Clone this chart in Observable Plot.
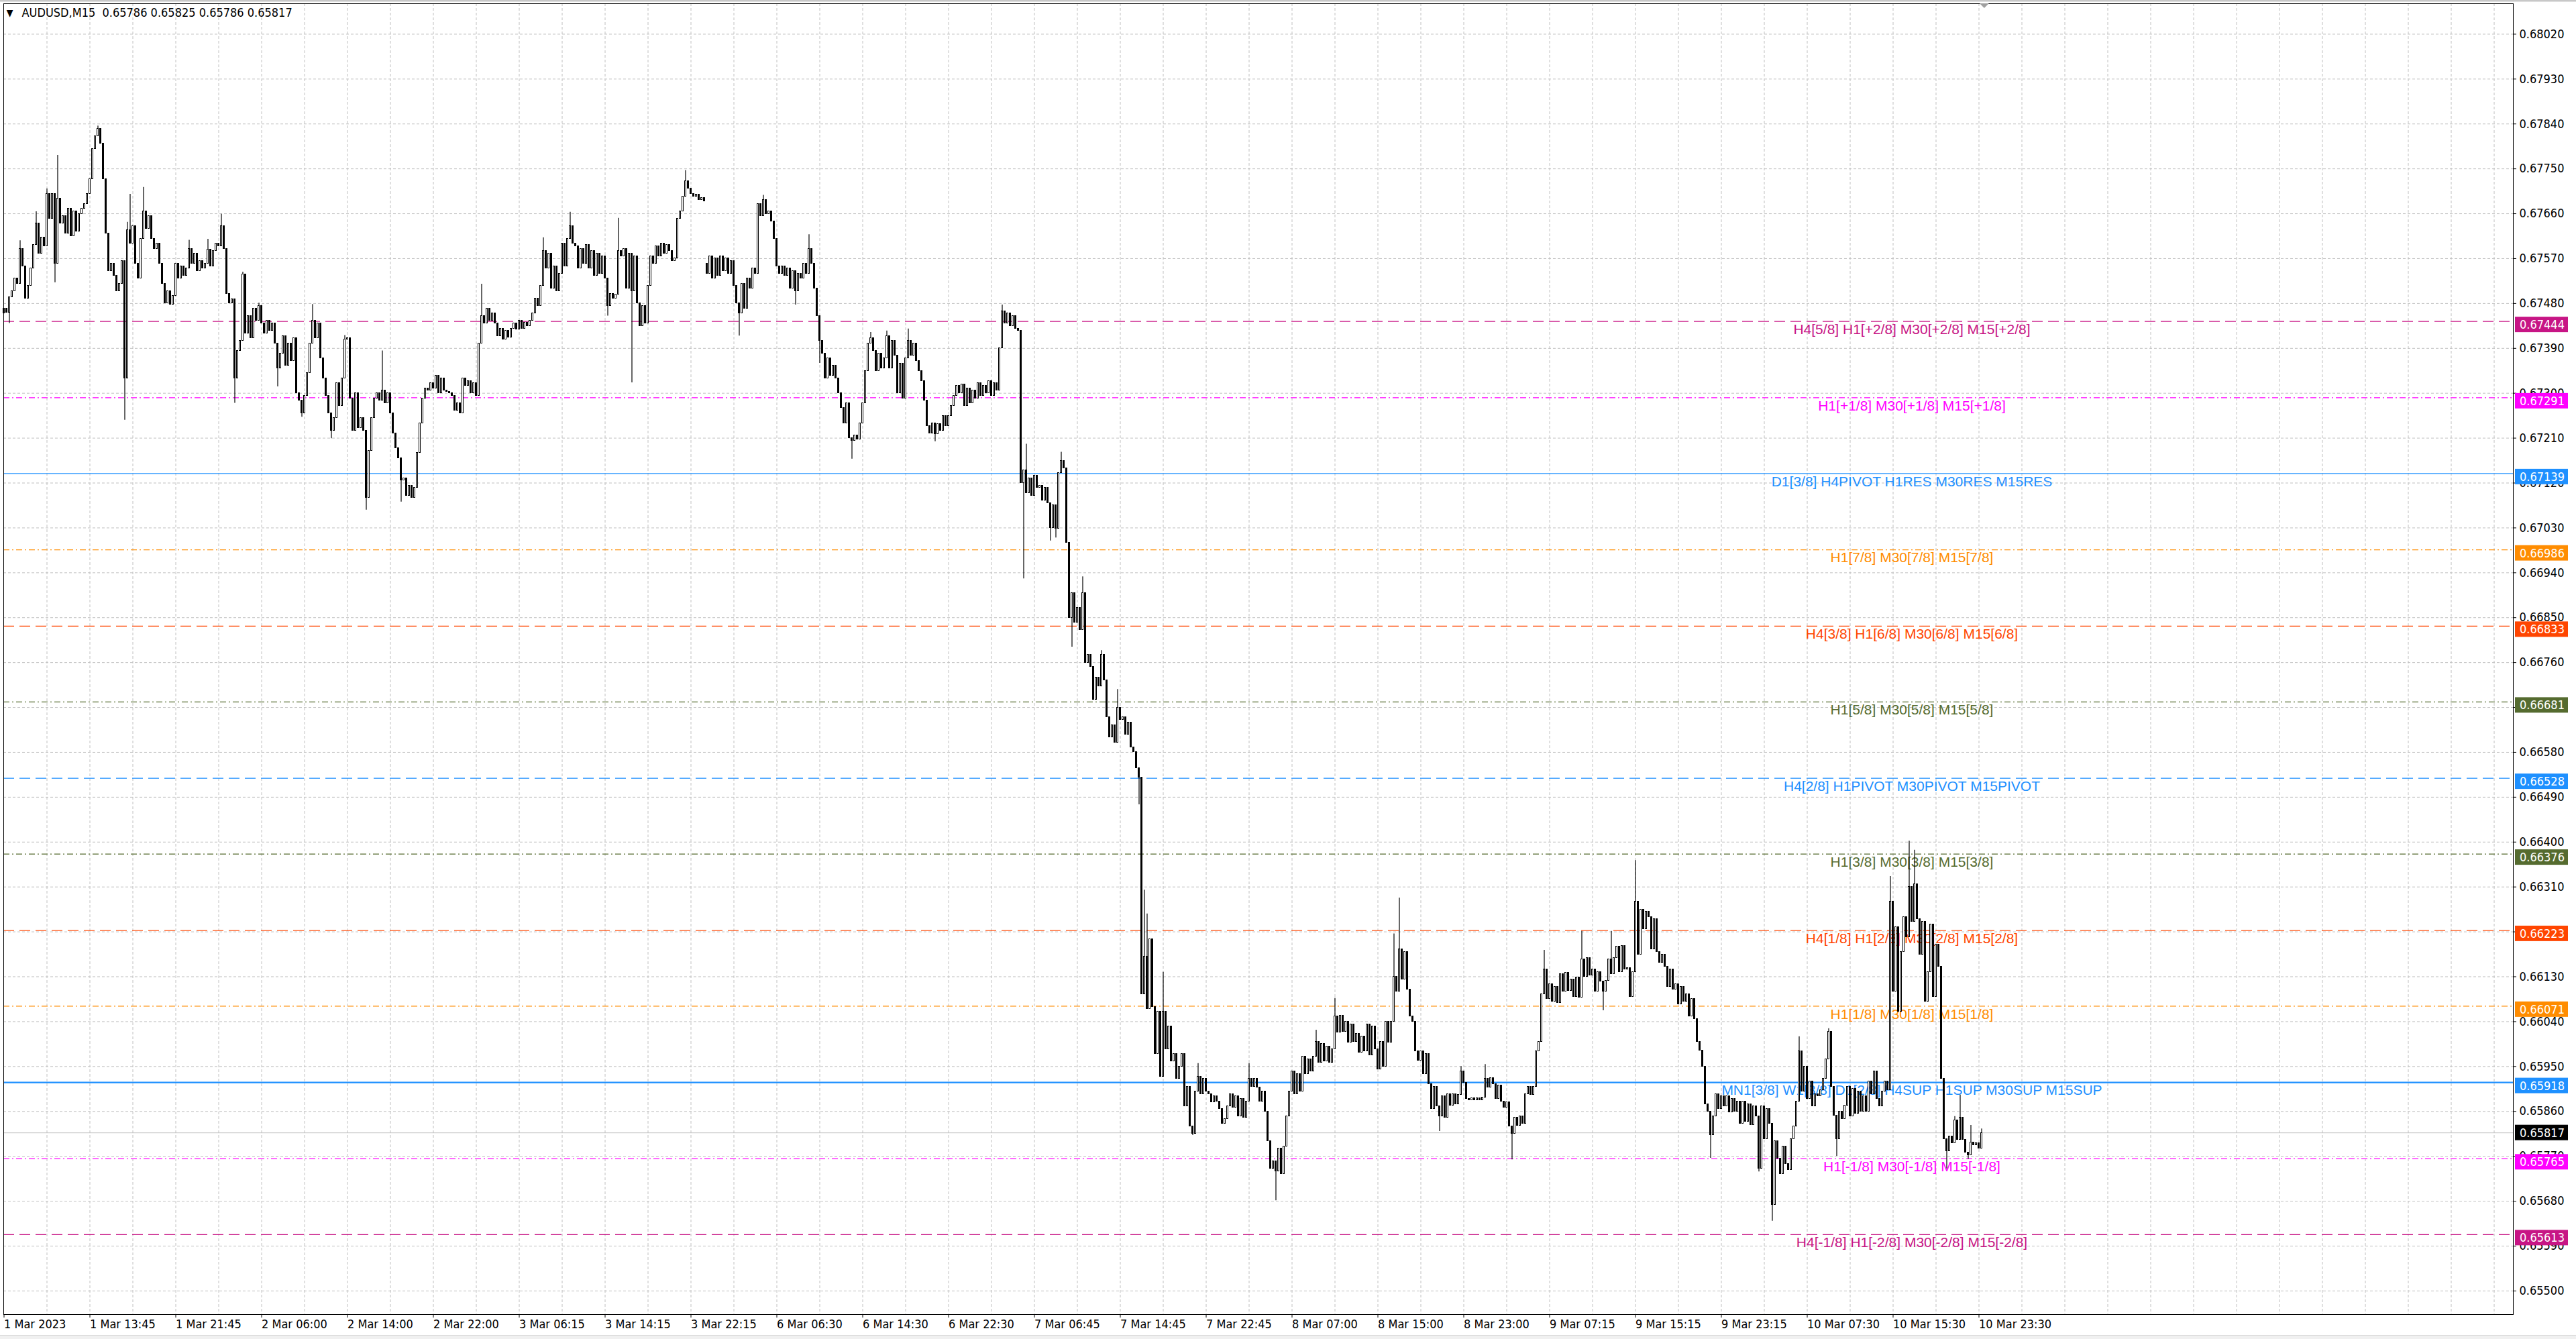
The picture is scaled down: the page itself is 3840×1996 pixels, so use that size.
<!DOCTYPE html>
<html>
<head>
<meta charset="utf-8">
<script src="https://cdn.jsdelivr.net/npm/d3@7"></script>
<script src="https://cdn.jsdelivr.net/npm/@observablehq/plot@0.6"></script>
<style>
  html, body { margin: 0; padding: 0; background: #ffffff; }
  #chart { width: 3840px; height: 1996px; overflow: hidden; }
</style>
</head>
<body>
<div id="chart"></div>
<script>
// ---------- DATA (prices in points above 0.65000, i.e. 2470 -> 0.67470) ----------
const priceBase = 0.65;
const symbol = "AUDUSD";
const timeframe = "M15";
const lastOHLC = [0.65786, 0.65825, 0.65786, 0.65817];
const lastPrice = 0.65817;

const firstOpen = 2460;      // open of the first visible bar
const weekGapBar = 262;      // first bar of Monday 6 Mar
const weekGapOpen = 2560;

const close_0301 = [2470,2462,2492,2505,2530,2520,2590,2555,2490,2515,
2550,2598,2640,2580,2612,2595,2700,2650,2700,2560,
2690,2640,2655,2620,2670,2615,2665,2625,2660,2670,
2680,2700,2730,2790,2815,2830,2800,2730,2620,2545,
2560,2535,2505,2520,2565,2330,2627,2600,2635,2560,
2530,2610,2665,2630,2655,2610,2590,2600,2560,2520,
2480,2505,2478,2495,2560,2530,2555,2535,2550,2590,
2560,2580];
const close_0302 = [2545,2565,2550,2560,2588,2555,2585,2600,
2595,2635,2590,2500,2480,2488,2330,2385,2405,2538,
2420,2455,2410,2470,2445,2475,2440,2420,2445,2425,
2440,2400,2350,2380,2415,2355,2400,2365,2410,2300,
2285,2260,2295,2340,2400,2445,2410,2440,2370,2330,
2295,2260,2225,2250,2320,2275,2330,2408,2410,2290,
2225,2300,2230,2250,2225,2090,2185,2250,2290,2300,
2285,2305,2280,2300,2260,2220,2190,2170,2125,2130,
2095,2115,2090,2110,2180,2240,2290,2310,2305,2320,
2310,2335,2300,2330,2305,2303,2300];
const close_0303 = [2295,2265,2280,
2260,2330,2315,2325,2300,2320,2295,2400,2455,2440,
2470,2445,2460,2440,2415,2430,2408,2425,2412,2430,
2440,2428,2445,2430,2442,2435,2445,2460,2490,2475,
2515,2585,2550,2580,2510,2555,2505,2540,2600,2555,
2610,2635,2600,2595,2550,2590,2560,2598,2550,2585,
2535,2580,2540,2575,2530,2475,2500,2490,2498,2585,
2575,2590,2510,2580,2505,2575,2480,2435,2475,2440,
2515,2575,2560,2595,2575,2600,2580,2598,2585,2565,
2570,2650,2665,2695,2725,2710,2700,2695,2698,2688,
2692,2685];
const close_0306 = [2540,2575,2530,2570,2535,2575,2545,2570,
2540,2565,2515,2480,2460,2520,2470,2530,2510,2550,
2540,2680,2655,2688,2660,2665,2645,2610,2555,2540,
2555,2535,2550,2510,2545,2505,2540,2530,2560,2540,
2590,2560,2510,2455,2405,2380,2330,2370,2335,2355,
2330,2300,2270,2240,2280,2210,2205,2215,2208,2240,
2280,2345,2400,2410,2385,2345,2380,2350,2370,2415,
2350,2405,2375,2300,2360,2290,2370,2405,2375,2400,
2365,2345,2325,2285,2235,2220,2240,2218,2238,2225,
2255,2235,2255,2275,2295,2315,2300];
const close_0307 = [2318,2275,2310,
2280,2305,2290,2320,2295,2315,2300,2325,2295,2320,
2305,2390,2465,2440,2460,2435,2455,2430,2425,2120,
2145,2100,2130,2095,2135,2110,2115,2085,2110,2080,
2030,2075,2028,2140,2165,2150,2000,1850,1900,1840,
1870,1825,1900,1760,1775,1752,1685,1730,1712,1775,
1725,1650,1610,1635,1600,1670,1645,1650,1615,1640,
1590,1580,1548,1530,1095,1170,1065,1205,1070,975,
1060,930,1060,985,1030,960,975,925,950,975,
870,910,830,815,900,930,895,925,900,895,878,890];
const close_0308 = [880,865,835,845,870,895,868,890,
850,885,848,880,925,910,926,908,880,900,
860,800,745,760,740,785,735,790,850,900,
940,895,935,900,970,935,965,940,970,1000,
958,995,960,990,958,985,1050,1018,1052,1020,
1040,998,1035,1000,1015,978,1010,980,1035,972,
1030,985,945,1000,950,1040,998,1040,1130,1100,
1185,1125,1180,1105,1050,1040,980,962,980,935,
975,915,865,910,870,850,890,848,895,872,
895,875,893,940,918,885,882];
const close_0309 = [887,883,886,
882,888,925,908,927,915,885,912,880,868,
878,830,815,848,832,850,835,895,910,893,
910,980,1000,1095,1145,1085,1115,1080,1110,1078,
1135,1100,1138,1102,1125,1090,1128,1088,1165,1130,
1168,1132,1145,1100,1140,1120,1100,1122,1165,1136,
1168,1190,1140,1192,1145,1148,1090,1140,1280,1175,
1265,1225,1260,1250,1185,1245,1180,1158,1175,1150,
1110,1145,1105,1115,1075,1110,1080,1095,1050,1085,
1045,1000,982,950,875,860,812,850,895,865,
890,870];
const close_0310 = [890,858,885,860,880,835,880,840,
875,833,870,850,745,870,805,865,835,672,
800,765,735,790,755,742,805,830,880,980,
900,950,885,920,870,895,890,903,925,965,
1020,910,852,805,860,845,872,910,850,905,
855,900,860,890,860,920,895,940,885,870,
900,920,902,1280,1100,1230,1060,1180,1250,1210,
1310,1240,1315,1245,1175,1240,1080,1140,1235,1090,
1195,1150,925,805,780,810,796,842,803,848,
803,778,772,798,792,796,786,817];

// long wicks: [bar, price points]
const highWicks = [[6,2606],[12,2664],[16,2710],[20,2777],[35,2836],[46,2643],[47,2699],[52,2713],[69,2607],[76,2609],[81,2659],[89,2543],[95,2481],[115,2478],[127,2416],[141,2385],[178,2519],[201,2612],[211,2663],[229,2651],[254,2747],[283,2697],[300,2618],[323,2422],[329,2425],[337,2429],[372,2477],[381,2198],[394,2182],[402,1932],[409,1784],[415,1706],[425,1304],[426,1256],[432,1139],[445,956],[464,956],[489,1023],[496,1087],[518,1216],[520,1288],[543,950],[552,954],[574,1183],[588,1221],[599,1221],[608,1363],[669,1010],[680,1026],[703,1331],[710,1402],[712,1384],[727,850],[729,893],[733,832],[737,825]];
const lowWicks = [[2,2440],[19,2522],[45,2246],[86,2280],[102,2313],[111,2252],[122,2209],[135,2066],[148,2082],[225,2455],[234,2321],[274,2415],[295,2477],[304,2360],[316,2168],[347,2203],[380,1928],[390,2004],[392,2010],[398,1791],[423,1475],[443,812],[474,681],[535,820],[562,763],[596,1062],[636,766],[654,739],[659,640],[683,770],[724,745],[732,764]];

// price axis ticks
const priceTicks = [0.68020,0.67930,0.67840,0.67750,0.67660,0.67570,0.67480,0.67390,0.67300,0.67210,0.67120,0.67030,0.66940,0.66850,0.66760,0.66670,0.66580,0.66490,0.66400,0.66310,0.66220,0.66130,0.66040,0.65950,0.65860,0.65770,0.65680,0.65590,0.65500];
// time axis labels (one every 32 bars)
const timeLabels = ["1 Mar 2023","1 Mar 13:45","1 Mar 21:45","2 Mar 06:00","2 Mar 14:00","2 Mar 22:00","3 Mar 06:15","3 Mar 14:15","3 Mar 22:15","6 Mar 06:30","6 Mar 14:30","6 Mar 22:30","7 Mar 06:45","7 Mar 14:45","7 Mar 22:45","8 Mar 07:00","8 Mar 15:00","8 Mar 23:00","9 Mar 07:15","9 Mar 15:15","9 Mar 23:15","10 Mar 07:30","10 Mar 15:30","10 Mar 23:30"];

// Murrey-math levels
const levelPrices = [0.67444,0.67291,0.67139,0.66986,0.66833,0.66681,0.66528,0.66376,0.66223,0.66071,0.65918,0.65765,0.65613];
const levelTexts = ["H4[5/8] H1[+2/8] M30[+2/8] M15[+2/8]","H1[+1/8] M30[+1/8] M15[+1/8]","D1[3/8] H4PIVOT H1RES M30RES M15RES","H1[7/8] M30[7/8] M15[7/8]","H4[3/8] H1[6/8] M30[6/8] M15[6/8]","H1[5/8] M30[5/8] M15[5/8]","H4[2/8] H1PIVOT M30PIVOT M15PIVOT","H1[3/8] M30[3/8] M15[3/8]","H4[1/8] H1[2/8] M30[2/8] M15[2/8]","H1[1/8] M30[1/8] M15[1/8]","MN1[3/8] W1[3/8] D1[2/8] H4SUP H1SUP M30SUP M15SUP","H1[-1/8] M30[-1/8] M15[-1/8]","H4[-1/8] H1[-2/8] M30[-2/8] M15[-2/8]"];

// ---------- STYLES ----------
const DASH = "16,8", DASHDOT = "9,4,2,4";
const levelStyle = [
  {color:"#C71585", dash:DASH, w:1.3},
  {color:"#FF00FF", dash:DASHDOT, w:1.3},
  {color:"#1E90FF", dash:null, w:1.3},
  {color:"#FF8C00", dash:DASHDOT, w:1.3},
  {color:"#FF4500", dash:DASH, w:1.3},
  {color:"#556B2F", dash:DASHDOT, w:1.3},
  {color:"#1E90FF", dash:DASH, w:1.3},
  {color:"#556B2F", dash:DASHDOT, w:1.3},
  {color:"#FF4500", dash:DASH, w:1.3},
  {color:"#FF8C00", dash:DASHDOT, w:1.3},
  {color:"#1E90FF", dash:null, w:2.4},
  {color:"#FF00FF", dash:DASHDOT, w:1.3},
  {color:"#C71585", dash:DASH, w:1.3}
];
const W = 3840, H = 1996;
const mL = 5, mR = 94, mT = 5, mB = 37;
const labelBar = 711;
const uiFont = '"DejaVu Sans Condensed","DejaVu Sans",sans-serif';
const levelFont = '"Liberation Sans",Arial,sans-serif';

// ---------- BUILD ----------
const closes = [].concat(close_0301, close_0302, close_0303, close_0306, close_0307, close_0308, close_0309, close_0310);
const hiMap = new Map(highWicks), loMap = new Map(lowWicks);
const px = p => priceBase + p / 1e5;
const bars = closes.map((c, i) => {
  const o = i === 0 ? firstOpen : (i === weekGapBar ? weekGapOpen : closes[i - 1]);
  const hi = Math.max(o, c, hiMap.has(i) ? hiMap.get(i) : -Infinity);
  const lo = Math.min(o, c, loMap.has(i) ? loMap.get(i) : Infinity);
  return {i, open: px(o), close: px(c), high: px(hi), low: px(lo)};
});
const bull = bars.filter(d => d.close > d.open);
const bear = bars.filter(d => d.close < d.open);
const doji = bars.filter(d => d.close === d.open);
const timeBars = timeLabels.map((_, k) => k * 32);
const gridBars = d3.range(16, 936, 16);

const levelRules = levelPrices.map((p, k) => Plot.ruleY([p], {
  stroke: levelStyle[k].color, strokeWidth: levelStyle[k].w,
  strokeDasharray: levelStyle[k].dash || undefined
}));
const levelLabels = levelPrices.map((p, k) => Plot.text([levelTexts[k]], {
  x: () => labelBar, y: () => p, text: d => d, dy: 12,
  fill: levelStyle[k].color, fontFamily: levelFont, fontSize: 21, textAnchor: "middle"
}));
const titleLine = `${symbol},${timeframe}\u00a0 ${lastOHLC.map(v => v.toFixed(5)).join(" ")}`;

const plot = Plot.plot({
  width: W, height: H,
  marginLeft: mL, marginRight: mR, marginTop: mT, marginBottom: mB,
  x: {type: "linear", domain: [-0.125, 935.125]},
  y: {type: "linear", domain: [0.654527, 0.680811]},
  style: {fontFamily: uiFont, fontSize: "18px", background: "#ffffff", color: "#000000"},
  marks: [
    Plot.ruleY(priceTicks, {stroke: "#c0c0c0", strokeDasharray: "4,3"}),
    Plot.ruleX(gridBars, {stroke: "#c0c0c0", strokeDasharray: "4,3"}),
    ...levelRules,
    Plot.ruleY([lastPrice], {stroke: "#c0c0c0"}),
    ...levelLabels,
    Plot.ruleX(bars, {x: "i", y1: "low", y2: "high", stroke: "#000000", strokeWidth: 1.2}),
    Plot.rect(bear, {x1: d => d.i - 0.36, x2: d => d.i + 0.36, y1: "open", y2: "close", fill: "#000000", stroke: "#000000", strokeWidth: 1, shapeRendering: "crispEdges"}),
    Plot.rect(bull, {x1: d => d.i - 0.36, x2: d => d.i + 0.36, y1: "open", y2: "close", fill: "#ffffff", stroke: "#000000", strokeWidth: 1, shapeRendering: "crispEdges"}),
    Plot.ruleY(doji, {x1: d => d.i - 0.4, x2: d => d.i + 0.4, y: "close", stroke: "#000000"}),
    Plot.frame({stroke: "#000000"}),
    Plot.axisY(priceTicks, {anchor: "right", tickSize: 4, tickPadding: 5, tickFormat: d => d.toFixed(5), label: null}),
    Plot.axisX(timeBars, {anchor: "bottom", tickSize: 5, tickPadding: 3, tickFormat: d => timeLabels[d / 32], textAnchor: "start", label: null}),
    Plot.text([titleLine], {frameAnchor: "top-left", dx: 27, dy: 14, lineAnchor: "middle", textAnchor: "start", fill: "#000000"}),
    Plot.text(["\u25BC"], {frameAnchor: "top-left", dx: 9, dy: 14, lineAnchor: "middle", textAnchor: "middle", fontSize: 14, fill: "#000000"})
  ]
});
document.getElementById("chart").appendChild(plot);

// ---------- price labels on the right scale ----------
const svg = d3.select(plot);
const yS = plot.scale("y"), xS = plot.scale("x");
const g = svg.append("g").attr("font-family", uiFont).attr("font-size", 18).attr("text-anchor", "start");
levelPrices.forEach((p, k) => {
  const yc = yS.apply(p) + 5;
  g.append("rect").attr("x", W - mR + 3).attr("y", yc - 11.5).attr("width", 79).attr("height", 23).attr("fill", levelStyle[k].color);
  g.append("text").attr("x", W - mR + 10).attr("y", yc).attr("dy", "0.36em").attr("text-anchor", "start").attr("fill", "#ffffff").text(p.toFixed(5));
});
{
  const yc = yS.apply(lastPrice);
  g.append("rect").attr("x", W - mR + 3).attr("y", yc - 11.5).attr("width", 79).attr("height", 23).attr("fill", "#000000");
  g.append("text").attr("x", W - mR + 10).attr("y", yc).attr("dy", "0.36em").attr("text-anchor", "start").attr("fill", "#ffffff").text(lastPrice.toFixed(5));
}
// window chrome
svg.append("rect").attr("x", 0).attr("y", 0).attr("width", W).attr("height", 2.5).attr("fill", "#c8c8c8");
svg.append("rect").attr("x", 0).attr("y", H - 5).attr("width", W).attr("height", 5).attr("fill", "#f0f0f0");
svg.append("line").attr("x1", 0).attr("x2", W).attr("y1", H - 5.5).attr("y2", H - 5.5).attr("stroke", "#d8d8d8");
// chart shift marker
{
  const sx = xS.apply(738.1);
  svg.append("path").attr("d", `M${sx - 7},${mT} L${sx + 7},${mT} L${sx},${mT + 7} Z`).attr("fill", "#a0a0a0");
}
</script>
</body>
</html>
